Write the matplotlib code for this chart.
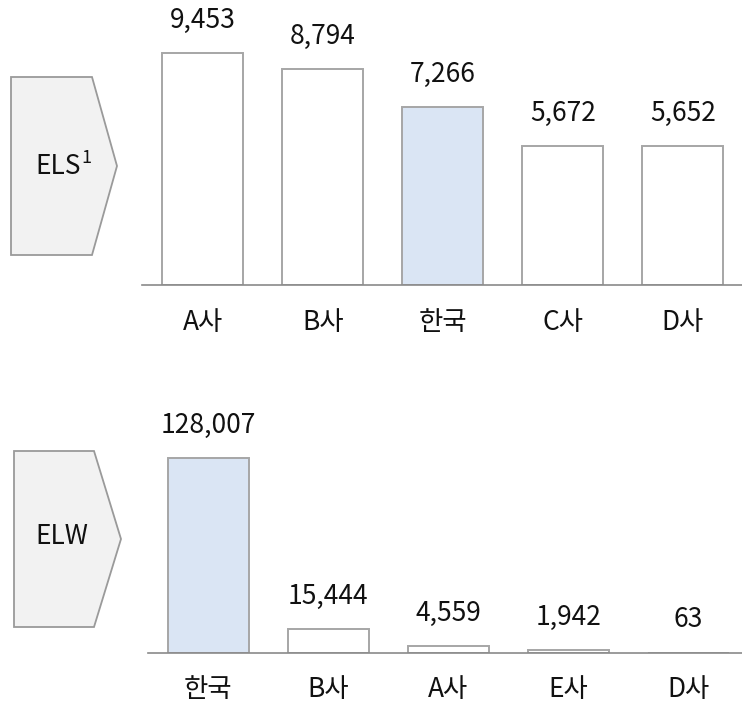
"""Two-panel bar chart: ELS and ELW by issuer."""

import matplotlib

matplotlib.use("Agg")
import matplotlib.pyplot as plt
from matplotlib.patches import Polygon
from matplotlib.text import Annotation

plt.rcParams["font.family"] = ["Noto Sans CJK KR", "DejaVu Sans"]

# data
els_labels = ["A사", "B사", "한국", "C사", "D사"]
els_values = [9453, 8794, 7266, 5672, 5652]
elw_labels = ["한국", "B사", "A사", "E사", "D사"]
elw_values = [128007, 15444, 4559, 1942, 63]
highlight = "한국"

W, H = 742, 709
BAR_EDGE = "#a6a6a6"
HL_FILL = "#dae5f4"
AXIS_COLOR = "#8a8a8a"
FONT_SIZE = 19


def fx(px):
    return px / W


def fy(py):
    return 1 - py / H


def draw_panel(fig, rect_px, labels, values):
    left, top, right, base = rect_px
    ax = fig.add_axes([fx(left), fy(base), fx(right - left), (base - top) / H])
    xs = list(range(len(labels)))
    colors = [HL_FILL if lab == highlight else "white" for lab in labels]
    ax.bar(xs, values, width=0.675, color=colors, edgecolor=BAR_EDGE, linewidth=1.4, zorder=2)
    for x, v, lab in zip(xs, values, labels):
        ax.annotate(f"{v:,}", (x, v), xytext=(0, 23.5), textcoords="offset points",
                    ha="center", va="center", fontsize=FONT_SIZE, color="#111111",
                    annotation_clip=False)
        ax.annotate(lab, (x, 0), xytext=(0, -26.5), textcoords="offset points",
                    ha="center", va="center", fontsize=FONT_SIZE, color="#111111",
                    annotation_clip=False)
    for side in ("top", "left", "right"):
        ax.spines[side].set_visible(False)
    ax.spines["bottom"].set_color(AXIS_COLOR)
    ax.spines["bottom"].set_linewidth(1.2)
    ax.spines["bottom"].set_zorder(3)
    ax.set_xticks([])
    ax.set_yticks([])
    ax.patch.set_alpha(0)
    return ax


fig = plt.figure(figsize=(W / 100, H / 100), dpi=100)

# top panel: ELS
ax1 = draw_panel(fig, (142, 0, 742, 285.5), els_labels, els_values)
ax1.set_xlim(-0.507, 4.493)
ax1.set_ylim(0, 9453 * 285.5 / 232.5)

# bottom panel: ELW
ax2 = draw_panel(fig, (148, 400, 742, 652.7), elw_labels, elw_values)
ax2.set_xlim(-0.502, 4.448)
ax2.set_ylim(0, 128007 * 252.7 / 195)

# chevron boxes on the left
boxes = [
    [(11, 77), (92, 77), (117, 166), (92, 255), (11, 255)],
    [(14, 451), (94, 451), (121, 539), (94, 627), (14, 627)],
]
for pts in boxes:
    fig.patches.append(Polygon([(fx(x), fy(y)) for x, y in pts], closed=True,
                               transform=fig.transFigure, facecolor="#f2f2f2",
                               edgecolor="#9a9a9a", linewidth=1.3))

els_txt = fig.text(fx(35), fy(166), "ELS", ha="left", va="center",
                   fontsize=FONT_SIZE, color="#111111")
fig.add_artist(Annotation("1", xy=(1.0, 0.78), xycoords=els_txt,
                          xytext=(0.3, 0), textcoords="offset points",
                          ha="left", va="center", fontsize=13, color="#111111"))
fig.text(fx(35), fy(537), "ELW", ha="left", va="center", fontsize=FONT_SIZE, color="#111111")

fig.savefig("out.png", dpi=100)
